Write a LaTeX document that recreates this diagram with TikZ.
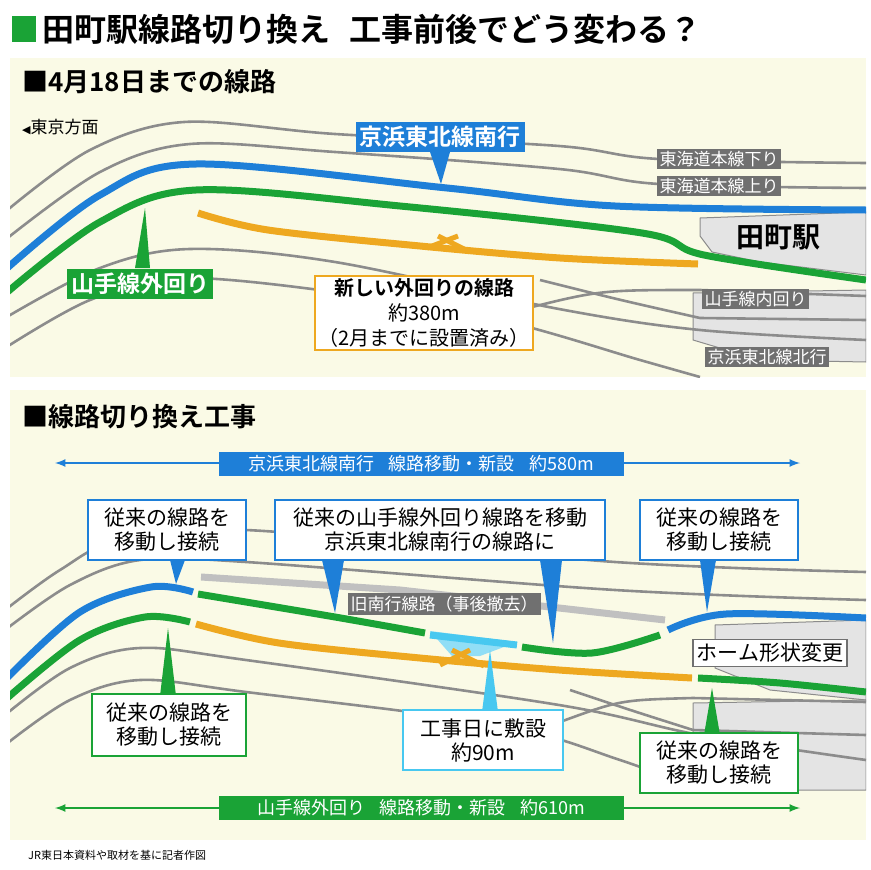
\documentclass[tikz,border=0pt]{standalone}
\usepackage{fontspec}
\setmainfont{Noto Sans CJK JP}[BoldFont={Noto Sans CJK JP Bold}]
\newfontfamily\dejavu{DejaVu Sans}
\begin{document}
\definecolor{cB}{HTML}{1E7FD8}
\definecolor{cG}{HTML}{1AA336}
\definecolor{cO}{HTML}{EEA820}
\definecolor{cC}{HTML}{48C8F0}
\definecolor{cGr}{HTML}{8C8C8C}
\definecolor{cDk}{HTML}{707070}
\definecolor{cBg}{HTML}{FAFAE6}
\definecolor{cPl}{HTML}{E4E4E4}
\begin{tikzpicture}[x=1pt,y=-1pt,
 gr/.style={cGr,line width=2.6},
 trk/.style={line width=7},
 sm/.style={smooth,tension=0.55},
 glab/.style={fill=cDk,text=white,font=\fontsize{17}{18}\selectfont,inner sep=2.5,anchor=west},
 cbox/.style={draw=#1,fill=white,line width=2,align=center,font=\fontsize{21}{24}\selectfont,inner sep=3},
 fbox/.style={fill=#1,text=white,font=\bfseries\fontsize{23}{25}\selectfont,inner sep=4},
 plat/.style={fill=cPl,draw=cGr,line width=1}]
\useasboundingbox (0,0) rectangle (870,870);
\fill[white] (0,0) rectangle (870,870);
\fill[cG] (12,16) rectangle (36,42);
\node[anchor=west,font=\bfseries\fontsize{32}{34}\selectfont,inner sep=0] (title) at (42,29) {田町駅線路切り換え\hspace{0.6em}工事前後でどう変わる？};
\fill[cBg] (10,58) rectangle (866,377);
\node[anchor=west,font=\bfseries\fontsize{26}{28}\selectfont,inner sep=0] (h1) at (22,82) {■4月18日までの線路};
\begin{scope}
\clip (10,100) rectangle (866,377);
\draw[plat] (700,218) -- (866,212) -- (866,275) -- (760,262) -- (712,252) -- (700,236) -- cycle;
\draw[plat] (693,293) -- (866,290) -- (866,362) -- (760,360) -- (693,340) -- cycle;
\draw[gr] plot[sm] coordinates {(5,212) (90,150) (184,122) (335,134) (559,146) (659,159) (866,163)};
\draw[gr] plot[sm] coordinates {(5,240) (100,172) (190,144) (335,152) (559,169) (659,184) (866,188)};
\draw[gr] plot[sm] coordinates {(5,318) (100,268) (190,249) (335,262) (559,309) (700,330) (866,340)};
\draw[gr] plot[sm] coordinates {(5,348) (90,300) (180,278) (335,292) (500,320) (640,360) (700,377)};
\draw[gr] (520,310) .. controls (600,290) .. (700,290) -- (866,296);
\draw[gr] (540,280) .. controls (620,300) .. (700,318) -- (866,320);
\draw[cB,trk] plot[sm] coordinates {(5,270) (100,195) (196,164) (447,188) (615,206) (866,210)};
\draw[cG,trk] plot[sm] coordinates {(5,294) (100,222) (196,190) (400,206) (642,233) (704,255) (866,280)};
\draw[cO,trk] plot[sm] coordinates {(198,213) (268,230) (420,246) (560,258) (698,264)};
\draw[cO,line width=5] (427,248) -- (458,236);
\draw[cO,line width=5] (438,236) -- (470,252);
\end{scope}
\node[anchor=west,font=\fontsize{17}{18}\selectfont,inner sep=0] (tokyo) at (22,127) {{\dejavu\fontsize{11}{12}\selectfont ◀}東京方面};
\node[font=\bfseries\fontsize{28}{30}\selectfont,inner sep=0] (tamachi) at (778,237) {田町駅};
\node[glab] (l1) at (657,159) {東海道本線下り};
\node[glab] (l2) at (657,186) {東海道本線上り};
\node[glab] (l3) at (702,299) {山手線内回り};
\node[glab] (l4) at (705,357) {京浜東北線北行};
\node[fbox=cB] (kb) at (440,137) {京浜東北線南行};
\fill[cB] (430,152) -- (450,152) -- (441,184) -- cycle;
\node[fbox=cG] (yo) at (140,284) {山手線外回り};
\fill[cG] (135,268) -- (150,268) -- (145,208) -- cycle;
\node[cbox=cO,font=\fontsize{20}{25}\selectfont] (new) at (424,313) {{\bfseries 新しい外回りの線路}\\約380m\\（2月までに設置済み）};
\fill[cBg] (10,390) rectangle (866,840);
\node[anchor=west,font=\bfseries\fontsize{26}{28}\selectfont,inner sep=0] (h2) at (22,417) {■線路切り換え工事};
\begin{scope}
\clip (10,490) rectangle (866,790);
\draw[plat] (715,625) -- (866,620) -- (866,700) -- (770,690) -- (715,668) -- cycle;
\draw[plat] (693,703) -- (866,700) -- (866,790) -- (693,790) -- cycle;
\draw[gr] plot[sm] coordinates {(5,610) (60,570) (120,540) (246,530) (615,562) (866,572)};
\draw[gr] plot[sm] coordinates {(5,630) (70,585) (140,560) (246,562) (615,590) (866,600)};
\draw[gr] plot[sm] coordinates {(5,715) (70,668) (140,648) (246,660) (559,705) (700,735) (866,760)};
\draw[gr] plot[sm] coordinates {(5,745) (70,700) (140,680) (246,692) (500,725) (620,760) (700,790)};
\draw[gr] (560,722) .. controls (620,700) .. (693,698) -- (866,702);
\draw[gr] (570,690) .. controls (630,710) .. (693,730) -- (866,735);
\draw[cGr!55,trk] (201,577) -- (400,590) -- (665,620);
\draw[cB,trk] plot[sm] coordinates {(5,680) (80,612) (151,587) (193,592)};
\draw[cG,trk] plot[sm] coordinates {(198,594) (335,617) (425,633)};
\fill[cC!60] (430,631) -- (517,642) -- (480,656) -- (452,656) -- cycle;
\draw[cC,trk] (430,635) -- (517,645);
\draw[cG,trk] plot[sm] coordinates {(522,647) (592,653) (660,635)};
\draw[cB,trk] plot[sm] coordinates {(668,630) (726,614) (866,618)};
\draw[cG,trk] plot[sm] coordinates {(5,700) (80,640) (145,617) (190,622)};
\draw[cO,trk] plot[sm] coordinates {(196,624) (279,643) (420,658) (559,670) (692,678)};
\draw[cO,line width=5] (440,665) -- (470,650);
\draw[cO,line width=5] (452,650) -- (484,666);
\draw[cG,trk] plot[sm] coordinates {(698,678) (780,683) (866,692)};
\end{scope}
\node[fill=cDk,text=white,font=\fontsize{17}{18}\selectfont,inner sep=3] (old) at (444,604) {旧南行線路（事後撤去）};
\node[draw=cDk,fill=white,line width=1.5,font=\fontsize{21}{23}\selectfont,inner sep=4] (home) at (770,653) {ホーム形状変更};
\coordinate (a1) at (55,463); \coordinate (a2) at (800,463);
\draw[cB,line width=2.5,<->,>={latex}] (a1) -- (a2);
\node[fill=cB,text=white,font=\fontsize{18}{20}\selectfont,inner sep=4,minimum width=405] (arr1) at (421,464) {京浜東北線南行\hspace{0.8em}線路移動・新設\hspace{0.8em}約580m};
\coordinate (b1) at (55,808); \coordinate (b2) at (800,808);
\draw[cG,line width=2.5,<->,>={latex}] (b1) -- (b2);
\node[fill=cG,text=white,font=\fontsize{18}{20}\selectfont,inner sep=4,minimum width=405] (arr2) at (421,808) {山手線外回り\hspace{0.8em}線路移動・新設\hspace{0.8em}約610m};
\fill[cB] (170,560) -- (185,560) -- (176,584) -- cycle;
\node[cbox=cB,minimum width=158,minimum height=60] (c1) at (167,530) {従来の線路を\\移動し接続};
\fill[cB] (322,560) -- (344,560) -- (335,613) -- cycle;
\fill[cB] (540,560) -- (562,560) -- (553,643) -- cycle;
\node[cbox=cB,minimum width=330,minimum height=60] (c2) at (440,530) {従来の山手線外回り線路を移動\\京浜東北線南行の線路に};
\fill[cB] (700,560) -- (716,560) -- (707,612) -- cycle;
\node[cbox=cB,minimum width=158,minimum height=60] (c3) at (719,530) {従来の線路を\\移動し接続};
\fill[cG] (160,696) -- (176,696) -- (168,628) -- cycle;
\node[cbox=cG,minimum width=154,minimum height=62] (c4) at (169,725) {従来の線路を\\移動し接続};
\fill[cC] (482,712) -- (498,712) -- (490,650) -- cycle;
\node[cbox=cC,minimum width=160,minimum height=60] (c5) at (483,740) {工事日に敷設\\約90m};
\fill[cG] (704,735) -- (720,735) -- (712,688) -- cycle;
\node[cbox=cG,minimum width=158,minimum height=60] (c6) at (719,763) {従来の線路を\\移動し接続};
\node[anchor=west,font=\fontsize{11}{12}\selectfont,inner sep=0] (foot) at (28,855) {JR東日本資料や取材を基に記者作図};
\end{tikzpicture}
\end{document}
